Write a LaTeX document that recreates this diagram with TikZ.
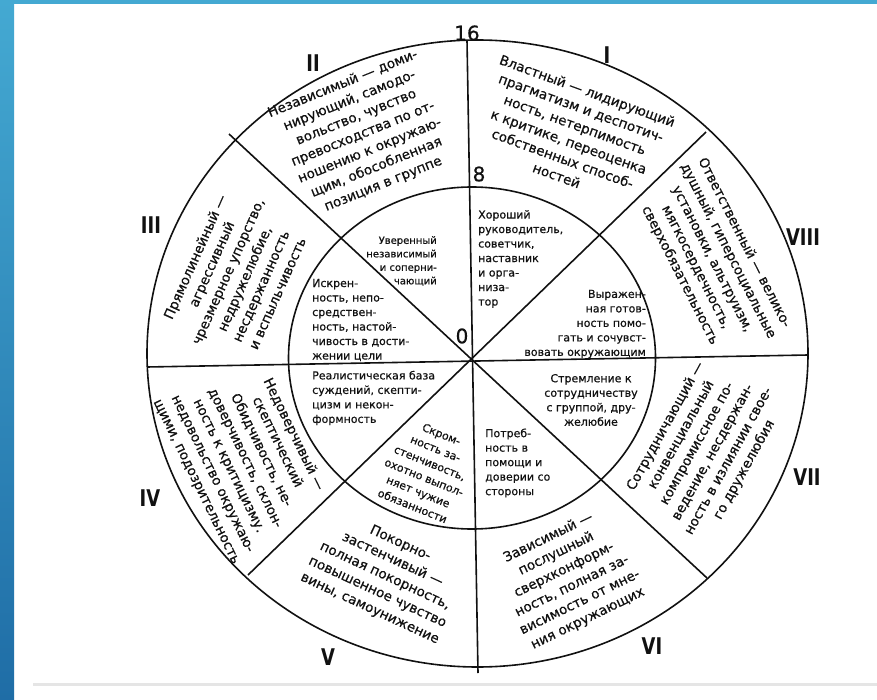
\documentclass[tikz,border=0pt]{standalone}
\usepackage{fontspec}
\setmainfont{DejaVu Sans}
\newfontfamily\dtext{DejaVu Sans}[FakeBold=0.6]
\definecolor{bluetop}{HTML}{44A9D2}
\definecolor{bluebot}{HTML}{1F6DA6}
\definecolor{ink}{HTML}{111111}
\newcommand{\romlbl}[1]{\scalebox{0.78}[1]{#1}}
\begin{document}
\begin{tikzpicture}[x=1pt,y=-1pt,
  ring/.style={line width=1.6pt, draw=ink},
  intxt/.style={font=\dtext\fontsize{11}{14.5}\selectfont, text=ink, inner sep=0pt},
  outtxt/.style={font=\dtext\fontsize{13.5}{18}\selectfont, text=ink, inner sep=0pt, align=center},
  roman/.style={font=\fontsize{23}{23}\selectfont\bfseries, text=ink, inner sep=0pt},
  numlbl/.style={font=\dtext\fontsize{20}{20}\selectfont, text=ink, inner sep=0pt}]
\useasboundingbox (0,0) rectangle (877,700);
\fill[white] (0,0) rectangle (877,700);
\shade[top color=bluetop, bottom color=bluebot] (0,0) rectangle (14,700);
\fill[bluetop] (0,0) rectangle (877,4);
\fill[black!10] (33,683) rectangle (877,686);
% geometry
\coordinate (O) at (470,358);
\coordinate (Ec) at (477.5,353.5);
\coordinate (Ic) at (472,358);
\coordinate (top) at (467,40.5);
\coordinate (bot) at (478,673);
\coordinate (lft) at (147,367);
\coordinate (rgt) at (808,355);
\coordinate (nw) at (229,134);
\coordinate (se) at (707,578);
\coordinate (ne) at (706,132);
\coordinate (sw) at (248,575);
\draw[ring] (Ec) ellipse [x radius=330.5pt, y radius=313.5pt];
\draw[ring] (Ic) ellipse [x radius=183.5pt, y radius=171pt];
\draw[ring] (top) -- (bot);
\draw[ring] (lft) -- (rgt);
\draw[ring] (nw) -- (se);
\draw[ring] (ne) -- (sw);
% inner texts
\node[intxt, font=\dtext\fontsize{10}{13.5}\selectfont, align=right, anchor=east] (tA) at (437,261) {Уверенный\\независимый\\и соперни-\\чающий};
\node[intxt, align=left, anchor=west] (tB) at (478,259) {Хороший\\руководитель,\\советчик,\\наставник\\и орга-\\низа-\\тор};
\node[intxt, align=right, anchor=east] (tC) at (646,324) {Выражен-\\ная готов-\\ность помо-\\гать и сочувст-\\вовать окружающим};
\node[intxt, align=left, anchor=west] (tD) at (312,320) {Искрен-\\ность, непо-\\средствен-\\ность, настой-\\чивость в дости-\\жении цели};
\node[intxt, align=left, anchor=west] (tE) at (312,398) {Реалистическая база\\суждений, скепти-\\цизм и некон-\\формность};
\node[intxt, align=center, rotate=-22, font=\dtext\fontsize{11}{15.5}\selectfont] (tF) at (427,470) {Скром-\\ность за-\\стенчивость,\\охотно выпол-\\няет чужие\\обязанности};
\node[intxt, align=left, anchor=west] (tG) at (485,463) {Потреб-\\ность в\\помощи и\\доверии со\\стороны};
\node[intxt, align=center] (tH) at (591,400) {Стремление к\\сотрудничеству\\с группой, дру-\\желюбие};
% outer texts
\node[outtxt, rotate=-20] (t1) at (572,133) {Властный — лидирующий\\прагматизм и деспотич-\\ность, нетерпимость\\к критике, переоценка\\собственных способ-\\ностей};
\node[outtxt, rotate=22] (t2) at (363,134) {Независимый — доми-\\нирующий, самодо-\\вольство, чувство\\превосходства по от-\\ношению к окружаю-\\щим, обособленная\\позиция в группе};
\node[outtxt, rotate=66] (t3) at (236,275) {Прямолинейный —\\агрессивный\\чрезмерное упорство,\\недружелюбие,\\несдержанность\\и вспыльчивость};
\node[outtxt, rotate=-64] (t4) at (245,458) {Недоверчивый —\\скептический\\Обидчивость, не-\\доверчивость, склон-\\ность к критицизму.\\недовольство окружаю-\\щими, подозрительность};
\node[outtxt, rotate=-25] (t5) at (385,576) {Покорно-\\застенчивый —\\полная покорность,\\повышенное чувство\\вины, самоунижение};
\node[outtxt, rotate=26] (t6) at (568,578) {Зависимый —\\послушный\\сверхконформ-\\ность, полная за-\\висимость от мне-\\ния окружающих};
\node[outtxt, rotate=61] (t7) at (705,448) {Сотрудничающий —\\конвенциальный\\компромиссное по-\\ведение, несдержан-\\ность в излиянии свое-\\го дружелюбия};
\node[outtxt, rotate=-63] (t8) at (712,259) {Ответственный — велико-\\душный, гиперсоциальные\\установки, альтруизм,\\мягкосердечность,\\сверхобязательность};
% labels
\node[roman] (r1) at (607,55) {\romlbl{I}};
\node[roman] (r2) at (313,63) {\romlbl{II}};
\node[roman] (r3) at (151,225) {\romlbl{III}};
\node[roman] (r4) at (150,498) {\romlbl{IV}};
\node[roman] (r5) at (328,657) {\romlbl{V}};
\node[roman] (r6) at (652,646) {\romlbl{VI}};
\node[roman] (r7) at (807,477) {\romlbl{VII}};
\node[roman] (r8) at (803,237) {\romlbl{VIII}};
\node[numlbl] (n16) at (467,33) {16};
\node[numlbl] (n8) at (479,174) {8};
\node[numlbl] (n0) at (462,336) {0};
\end{tikzpicture}
\end{document}
